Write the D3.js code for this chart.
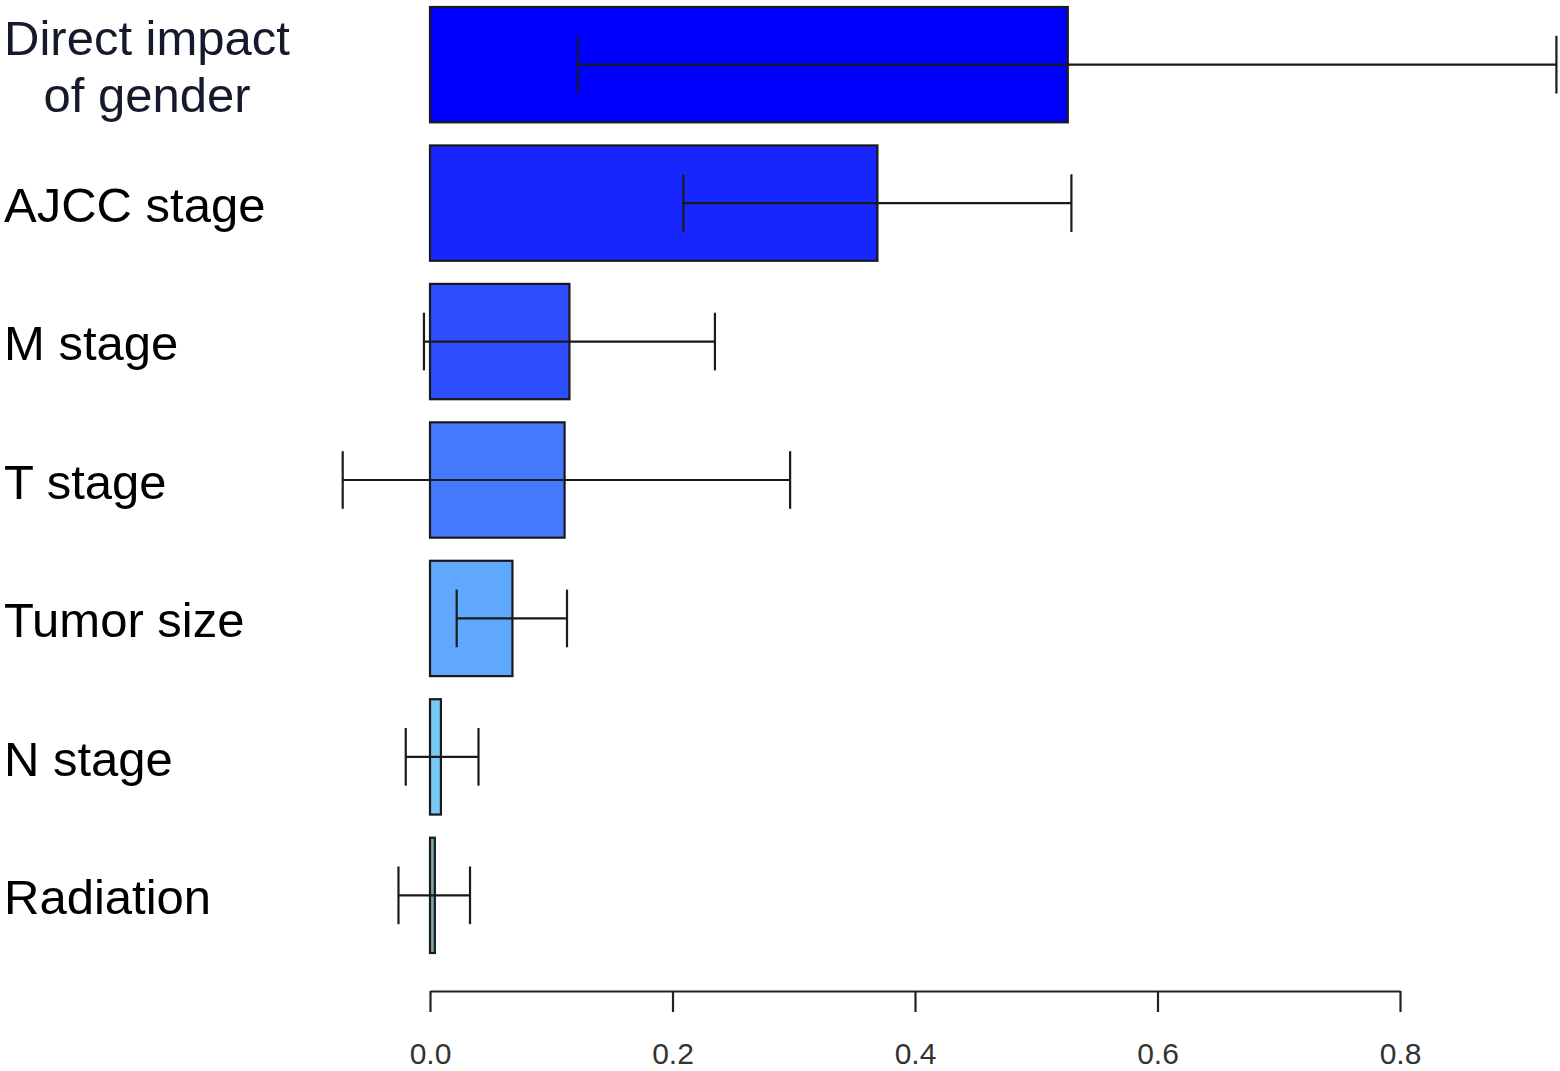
<!DOCTYPE html>
<html>
<head>
<meta charset="utf-8">
<script src="https://cdn.jsdelivr.net/npm/d3@7"></script>
<style>
  body { margin: 0; background: #fff; }
  svg { display: block; font-family: "Liberation Sans", Arial, sans-serif; }
</style>
</head>
<body>
<div id="container"></div>
<script>
// chart values
let categories = ['Direct impact\nof gender', 'AJCC stage', 'M stage', 'T stage', 'Tumor size', 'N stage', 'Radiation']
let values = [0.526, 0.369, 0.115, 0.111, 0.068, 0.009, 0.004]
let lower = [0.122, 0.209, -0.005, -0.072, 0.022, -0.020, -0.026]
let upper = [0.929, 0.529, 0.235, 0.297, 0.113, 0.040, 0.033]
let colours = ['#0000ff', '#1626fd', '#2e4efe', '#4479fe', '#5fa8fd', '#78c8f4', '#78a8b2']
let ticks = [0, 0.2, 0.4, 0.6, 0.8]

let width = 1560,
  height = 1071

let svg = d3.select('#container')
  .append('svg')
  .attr('width', width)
  .attr('height', height)

let x = d3.scaleLinear().domain([0, 0.8]).range([430, 1400])

let y = d3.scaleBand()
  .domain(categories)
  .range([7, 953])
  .paddingInner(0.167)
  .paddingOuter(0)

let bw = y.bandwidth()

// bars
svg.selectAll('rect.bar')
  .data(categories)
  .join('rect')
  .attr('class', 'bar')
  .attr('x', x(0))
  .attr('y', d => y(d))
  .attr('width', (d, i) => x(values[i]) - x(0))
  .attr('height', bw)
  .attr('fill', (d, i) => colours[i])
  .attr('stroke', '#1a1a1a')
  .attr('stroke-width', 2.2)

// error bars: a line and two caps for each
let err = svg.append('g')
  .attr('stroke', '#1a1a1a')
  .attr('stroke-width', 2.2)
  .selectAll('g')
  .data(categories)
  .join('g')
  .attr('transform', d => `translate(0,${y(d) + bw / 2})`)

err.append('line')
  .attr('x1', (d, i) => x(lower[i]))
  .attr('x2', (d, i) => x(upper[i]))

err.append('line')
  .attr('x1', (d, i) => x(lower[i]))
  .attr('x2', (d, i) => x(lower[i]))
  .attr('y1', -bw / 4)
  .attr('y2', bw / 4)

err.append('line')
  .attr('x1', (d, i) => x(upper[i]))
  .attr('x2', (d, i) => x(upper[i]))
  .attr('y1', -bw / 4)
  .attr('y2', bw / 4)

// category labels
let labels = svg.append('g')
  .attr('font-size', 49)
  .selectAll('text')
  .data(categories)
  .join('text')
  .attr('fill', (d, i) => i === 0 ? '#141a2c' : '#000')
  .attr('text-anchor', d => d.includes('\n') ? 'middle' : 'start')
  .attr('x', d => d.includes('\n') ? 147 : 4)
  .attr('y', d => y(d) + bw / 2)

labels.each(function (d) {
  let lines = d.split('\n')
  let t = d3.select(this)
  lines.forEach((line, k) => {
    t.append('tspan')
      .attr('x', t.attr('x'))
      .attr('dy', k === 0 ? `${0.38 - (lines.length - 1) * 0.58}em` : '1.16em')
      .text(line)
  })
})

// x axis
let axis = svg.append('g')
  .attr('transform', 'translate(0,991)')
  .call(d3.axisBottom(x)
    .tickValues(ticks)
    .tickFormat(d3.format('.1f'))
    .tickSize(21)
    .tickSizeOuter(0)
    .tickPadding(31))

axis.select('.domain').attr('stroke', '#222').attr('stroke-width', 2.2)
axis.selectAll('.tick line').attr('stroke', '#222').attr('stroke-width', 2.2)
axis.selectAll('.tick text')
  .attr('font-size', 30)
  .attr('font-family', '"Liberation Sans", Arial, sans-serif')
  .attr('fill', '#333')
</script>
</body>
</html>
